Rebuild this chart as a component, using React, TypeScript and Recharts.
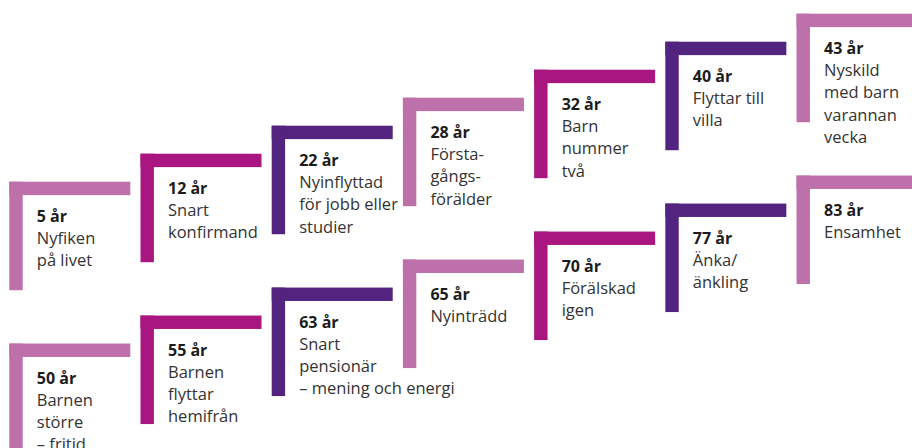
import { ScatterChart, Scatter, XAxis, YAxis } from 'recharts';

// life stages, two rows of seven steps
const ages = ['5 år', '12 år', '22 år', '28 år', '32 år', '40 år', '43 år', '50 år', '55 år', '63 år', '65 år', '70 år', '77 år', '83 år'];
const labels = [
  ['Nyfiken', 'på livet'],
  ['Snart', 'konfirmand'],
  ['Nyinflyttad', 'för jobb eller', 'studier'],
  ['Första-', 'gångs-', 'förälder'],
  ['Barn', 'nummer', 'två'],
  ['Flyttar till', 'villa'],
  ['Nyskild', 'med barn', 'varannan', 'vecka'],
  ['Barnen', 'större', '– fritid'],
  ['Barnen', 'flyttar', 'hemifrån'],
  ['Snart', 'pensionär', '– mening och energi'],
  ['Nyinträdd'],
  ['Förälskad', 'igen'],
  ['Änka/', 'änkling'],
  ['Ensamhet'],
];
const stepIndex = [0, 1, 2, 3, 4, 5, 6, 0, 1, 2, 3, 4, 5, 6];
const stepLevel = [5.78, 6.78, 7.78, 8.78, 9.78, 10.78, 11.78, 0, 1, 2, 3, 4, 5, 6];

const palette = ['#bd70aa', '#aa1680', '#52247f'];

const data = ages.map((age, i) => ({
  x: stepIndex[i],
  y: stepLevel[i],
  age,
  lines: labels[i],
  color: palette[stepIndex[i] % 3],
}));

const Step = (props: any) => {
  const { cx, cy, payload } = props;
  if (cx == null || cy == null) return null;
  const tx = cx + 27.5;
  return (
    <g>
      <rect x={cx} y={cy} width={121} height={13.4} fill={payload.color} />
      <rect x={cx} y={cy} width={13.4} height={108.5} fill={payload.color} />
      <text x={tx} y={cy + 40} fontFamily="'Open Sans', sans-serif" fontSize={16} fontWeight={700} fill="#1c1c1c">
        {payload.age}
      </text>
      <text x={tx} y={cy + 40} fontFamily="'Open Sans', sans-serif" fontSize={16.5} fill="#333">
        {payload.lines.map((l: string, j: number) => (
          <tspan key={j} x={tx} dy={22.3}>{l}</tspan>
        ))}
      </text>
    </g>
  );
};

export default function App() {
  return (
    <div style={{ position: 'absolute', left: 0, top: 0, width: 912, height: 448, background: '#fff' }}>
      <ScatterChart width={912} height={448} margin={{ top: 0, right: 0, bottom: 0, left: 9.3 }}>
        <XAxis type="number" dataKey="x" domain={[0, 6.88]} hide />
        <YAxis type="number" dataKey="y" domain={[-3.73, 12.27]} hide />
        <Scatter data={data} shape={<Step />} isAnimationActive={false} />
      </ScatterChart>
    </div>
  );
}
